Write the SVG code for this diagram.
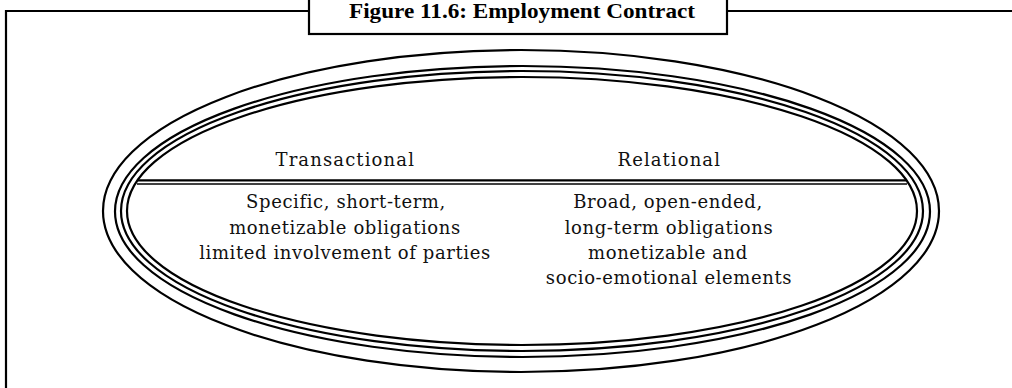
<svg xmlns="http://www.w3.org/2000/svg" width="1012" height="388" viewBox="0 0 1012 388">
<style>
.frame{fill:none;stroke:#000;stroke-width:2.2}
.ell{fill:none;stroke:#000;stroke-width:2.2}
.txt{font-family:"DejaVu Serif","Liberation Serif",serif;font-size:18px;fill:#111;text-anchor:middle;letter-spacing:0.6px}
.title{font-family:"Liberation Serif","DejaVu Serif",serif;font-size:22px;font-weight:bold;fill:#000;text-anchor:middle}
</style>
<rect width="1012" height="388" fill="#fff"/>
<g id="frame">
<path class="frame" d="M6,388 V11 H309 M727,11 H1012"/>
<rect class="frame" x="309" y="-4" width="418" height="38" fill="#fff"/>
<text class="title" x="522" y="18" textLength="346" lengthAdjust="spacingAndGlyphs">Figure 11.6: Employment Contract</text>
</g>
<g id="contract">
<ellipse class="ell" cx="521" cy="211" rx="418" ry="161" stroke-width="1.8"/>
<ellipse class="ell" cx="522.5" cy="211.5" rx="407.5" ry="145.5"/>
<ellipse class="ell" cx="522" cy="211" rx="401" ry="140"/>
<ellipse class="ell" cx="522" cy="211" rx="395" ry="134"/>
<line x1="138" y1="180.3" x2="906" y2="180.3" stroke="#000" stroke-width="2.2"/>
<line x1="137" y1="184" x2="907" y2="184" stroke="#000" stroke-width="1.3"/>
</g>
<g id="transactional">
<text class="txt" x="345" y="166" textLength="139" lengthAdjust="spacing">Transactional</text>
<text class="txt" x="346" y="208">Specific, short-term,</text>
<text class="txt" x="345" y="233.5">monetizable obligations</text>
<text class="txt" x="345" y="259">limited involvement of parties</text>
</g>
<g id="relational">
<text class="txt" x="669" y="166" textLength="103" lengthAdjust="spacing">Relational</text>
<text class="txt" x="668" y="208">Broad, open-ended,</text>
<text class="txt" x="669" y="233.5">long-term obligations</text>
<text class="txt" x="668" y="259">monetizable and</text>
<text class="txt" x="669" y="284">socio-emotional elements</text>
</g>
</svg>
